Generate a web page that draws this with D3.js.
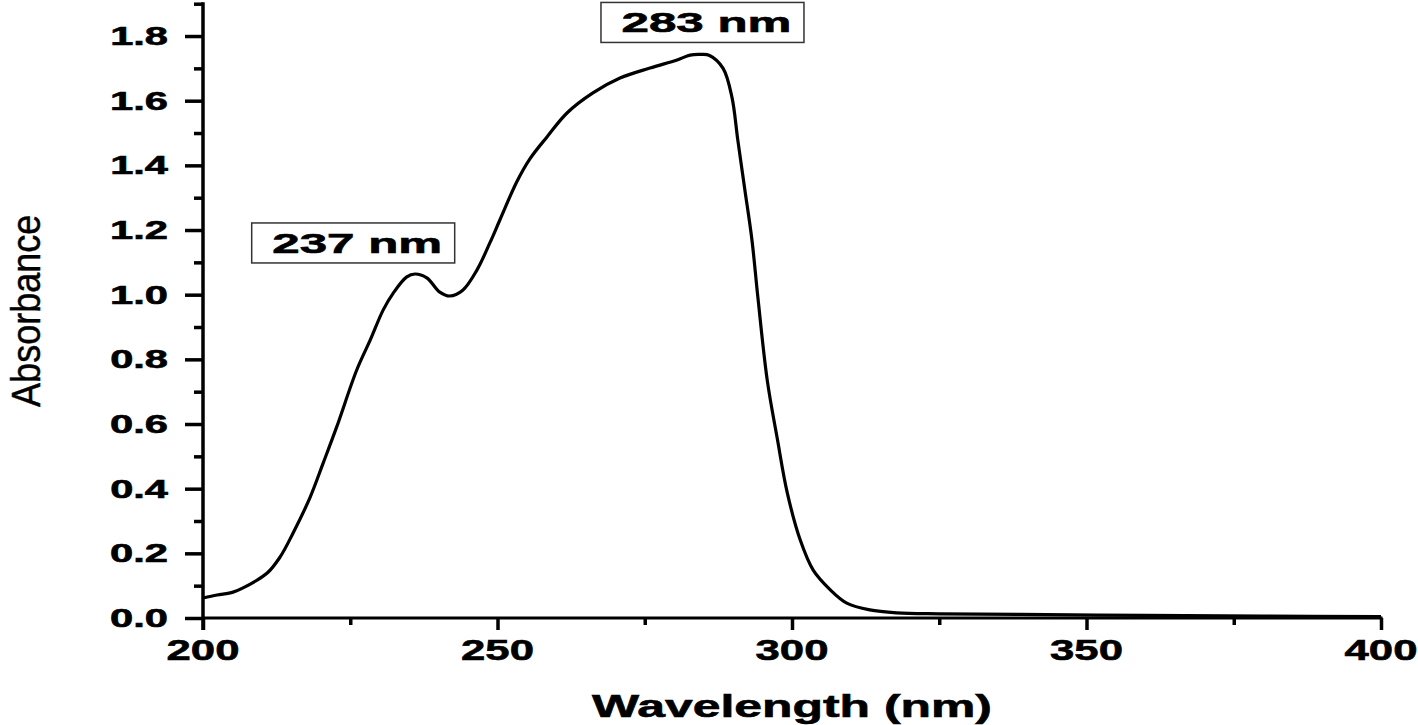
<!DOCTYPE html>
<html>
<head>
<meta charset="utf-8">
<script src="https://cdn.jsdelivr.net/npm/d3@7"></script>
<style>
  html, body { margin: 0; padding: 0; background: #fff; }
  svg { display: block; }
  text { font-family: "Liberation Sans", Arial, sans-serif; fill: #000; }
</style>
</head>
<body>
<svg id="chart" width="1418" height="725"></svg>
<script>
// ---- data ----
const wavelength = [200, 202.4, 205.1, 206.8, 210.9, 213.1, 215.3, 218.2, 220.4, 222.7,
  226.1, 228.4, 230.6, 232.3, 234.6, 236.0, 238.0, 240.2, 241.9, 244.1,
  246.5, 248.7, 250.4, 253.3, 255.5, 258.4, 261.8, 266.2, 270.8, 275.9,
  280.5, 282.7, 284.5, 286.0, 288.3, 289.8, 290.8, 292.0, 293.2, 294.2,
  295.8, 297.5, 299.2, 301.4, 303.6, 306.5, 309.3, 313.2, 317.8, 325,
  338.7, 360, 380, 400];
const absorbance = [0.062, 0.071, 0.080, 0.093, 0.139, 0.189, 0.263, 0.374, 0.479, 0.591,
  0.767, 0.860, 0.953, 1.005, 1.055, 1.064, 1.052, 1.008, 0.996, 1.014,
  1.076, 1.160, 1.231, 1.350, 1.420, 1.488, 1.562, 1.624, 1.670, 1.701,
  1.726, 1.741, 1.743, 1.740, 1.700, 1.611, 1.478, 1.324, 1.169, 0.993,
  0.735, 0.555, 0.387, 0.241, 0.148, 0.087, 0.046, 0.025, 0.016, 0.013,
  0.011, 0.008, 0.006, 0.004];
const xTicks = [200, 250, 300, 350, 400];
const xMinorTicks = [225, 275, 325, 375];
const yTicks = [0.0, 0.2, 0.4, 0.6, 0.8, 1.0, 1.2, 1.4, 1.6, 1.8];
const yMinorTicks = [0.1, 0.3, 0.5, 0.7, 0.9, 1.1, 1.3, 1.5, 1.7, 1.9];
const peakLabels = ["237 nm", "283 nm"];
const peakLabelWl = [225.5, 284.8];     // box centre, data units
const peakLabelAbs = [1.160, 1.842];
const xTitle = "Wavelength (nm)";
const yTitle = "Absorbance";

// ---- layout ----
const mLeft = 203, mRight = 1381, mTop = 3.7, mBottom = 618;
const svg = d3.select("#chart");

const x = d3.scaleLinear().domain([200, 400]).range([mLeft, mRight]);
const y = d3.scaleLinear().domain([0, 1.9]).range([mBottom, mTop]);

function fitText(sel, targetWidth) {
  sel.each(function () {
    const t = d3.select(this);
    const w = this.getBBox().width;
    const s = targetWidth / w;
    t.attr("transform", t.attr("data-base") + ` scale(${s},1)`);
  });
}

// ---- x axis ----
const gx = svg.append("g").attr("transform", `translate(0,${mBottom})`);
gx.call(d3.axisBottom(x).tickValues(xTicks).tickSize(12).tickSizeOuter(0).tickFormat(() => ""));
gx.select(".domain").attr("stroke", "#000").attr("stroke-width", 3)
  .attr("d", `M${mLeft - 1},0H${mRight + 1.5}`);
gx.selectAll(".tick line").attr("stroke", "#000").attr("stroke-width", 3.5);
const gxm = svg.append("g").attr("transform", `translate(0,${mBottom})`);
gxm.call(d3.axisBottom(x).tickValues(xMinorTicks).tickSize(7).tickFormat(() => ""));
gxm.select(".domain").remove();
gxm.selectAll(".tick line").attr("stroke", "#000").attr("stroke-width", 3.5);

svg.append("g").selectAll("text").data(xTicks).join("text")
  .attr("data-base", d => `translate(${x(d)},660)`)
  .attr("text-anchor", "middle")
  .attr("font-size", 30).attr("font-weight", "bold")
  .attr("stroke", "#000").attr("stroke-width", 0.6)
  .text(d => d3.format("d")(d))
  .call(fitText, 73);

// ---- y axis ----
const gy = svg.append("g").attr("transform", `translate(${mLeft},0)`);
gy.call(d3.axisLeft(y).tickValues(yTicks).tickSize(18).tickSizeOuter(0).tickFormat(() => ""));
gy.select(".domain").attr("stroke", "#000").attr("stroke-width", 3.5)
  .attr("d", `M0,${mTop - 1.5}V${mBottom + 12}`);
gy.selectAll(".tick line").attr("stroke", "#000").attr("stroke-width", 3.5);
const gym = svg.append("g").attr("transform", `translate(${mLeft},0)`);
gym.call(d3.axisLeft(y).tickValues(yMinorTicks).tickSize(9).tickFormat(() => ""));
gym.select(".domain").remove();
gym.selectAll(".tick line").attr("stroke", "#000").attr("stroke-width", 3.5);

svg.append("g").selectAll("text").data(yTicks).join("text")
  .attr("data-base", d => `translate(168,${y(d) + 9})`)
  .attr("text-anchor", "end")
  .attr("font-size", 25).attr("font-weight", "bold")
  .attr("stroke", "#000").attr("stroke-width", 0.6)
  .text(d => d3.format(".1f")(d))
  .call(fitText, 58);

// ---- axis titles ----
svg.append("text")
  .attr("data-base", `translate(${(mLeft + mRight) / 2},717)`)
  .attr("text-anchor", "middle")
  .attr("font-size", 32).attr("font-weight", "bold")
  .attr("stroke", "#000").attr("stroke-width", 0.6)
  .text(xTitle)
  .call(fitText, 400);

svg.append("text")
  .attr("transform", `translate(40,${(mTop + mBottom) / 2}) scale(1.15,1) rotate(-90)`)
  .attr("text-anchor", "middle")
  .attr("font-size", 36)
  .attr("stroke", "#000").attr("stroke-width", 0.4)
  .text(yTitle);

// ---- curve ----
const pts = wavelength.map((w, i) => [w, absorbance[i]]);
const line = d3.line().x(d => x(d[0])).y(d => y(d[1])).curve(d3.curveCatmullRom.alpha(0.5));
svg.append("path").datum(pts)
  .attr("d", line)
  .attr("fill", "none").attr("stroke", "#000").attr("stroke-width", 3.2)
  .attr("stroke-linejoin", "round");

// ---- peak labels ----
const boxW = 203, boxH = 40;
peakLabels.forEach((lab, i) => {
  const cx = x(peakLabelWl[i]), cy = y(peakLabelAbs[i]);
  const g = svg.append("g");
  g.append("rect")
    .attr("x", cx - boxW / 2).attr("y", cy - boxH / 2)
    .attr("width", boxW).attr("height", boxH)
    .attr("fill", "#fff").attr("stroke", "#333").attr("stroke-width", 1.5);
  g.append("text")
    .attr("data-base", `translate(${cx + 4},${cy + 10})`)
    .attr("text-anchor", "middle")
    .attr("font-size", 28).attr("font-weight", "bold")
    .attr("stroke", "#000").attr("stroke-width", 0.6)
    .text(lab)
    .call(fitText, 170);
});
</script>
</body>
</html>
